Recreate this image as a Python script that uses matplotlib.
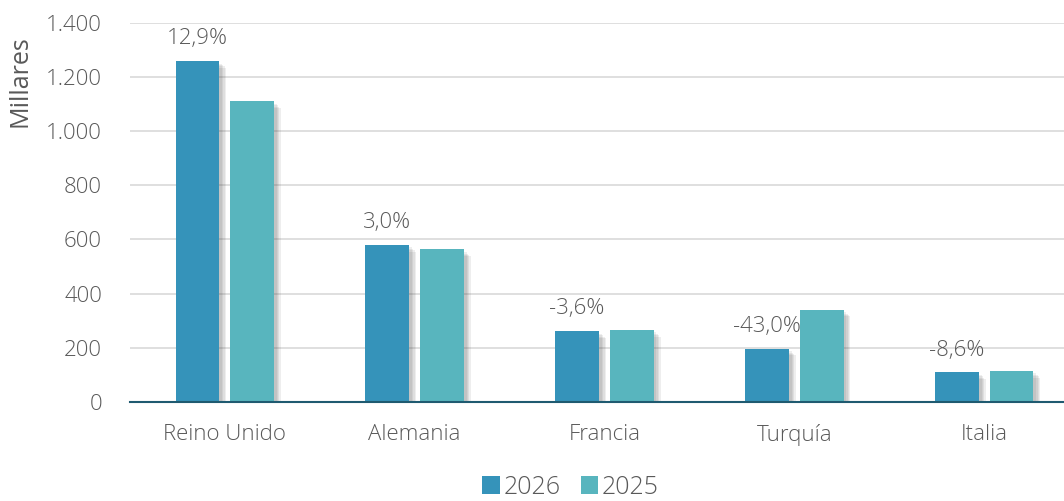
import matplotlib
matplotlib.use("Agg")
import matplotlib.pyplot as plt
import matplotlib.patheffects as pe
import numpy as np

# Data (thousands)
categories = ["Reino Unido", "Alemania", "Francia", "Turquía", "Italia"]
values_2026 = [1260, 581, 261, 197, 109]
values_2025 = [1112, 563, 267, 341, 115]
pct_labels = ["12,9%", "3,0%", "-3,6%", "-43,0%", "-8,6%"]

COLOR_2026 = "#3593BA"
COLOR_2025 = "#58B5BE"
TEXT_COLOR = "#595959"

plt.rcParams["font.family"] = ["Open Sans", "DejaVu Sans"]
plt.rcParams["font.weight"] = "light"

fig = plt.figure(figsize=(10.64, 5.01), dpi=100)
ax = fig.add_axes([0.122, 0.198, 0.878, 0.756])

x = np.arange(len(categories))
width = 0.23
offset = 0.144

# soft drop shadow built from a few faint offset copies
shadow = [pe.SimplePatchShadow(offset=(d, -d), shadow_rgbFace="#444444", alpha=0.09)
          for d in (5, 4, 3, 2)] + [pe.Normal()]

b1 = ax.bar(x - offset, values_2026, width, color=COLOR_2026, label="2026", zorder=3)
b2 = ax.bar(x + offset, values_2025, width, color=COLOR_2025, label="2025", zorder=3)
for bar in list(b1) + list(b2):
    bar.set_path_effects(shadow)

for xi, v, lab in zip(x, values_2026, pct_labels):
    ax.annotate(lab, (xi - offset, v), xytext=(0, 16), textcoords="offset points",
                ha="center", va="center", fontsize=16, color=TEXT_COLOR, zorder=5)

ax.set_xlim(-0.5, 4.42)
ax.set_ylim(0, 1400)
ax.set_yticks(range(0, 1401, 200))
ax.yaxis.set_major_formatter(plt.FuncFormatter(lambda v, p: f"{int(v):,}".replace(",", ".")))
ax.set_xticks(x)
ax.set_xticklabels(categories)
ax.tick_params(axis="both", length=0, labelsize=16, labelcolor=TEXT_COLOR)
ax.tick_params(axis="x", pad=16)
ax.tick_params(axis="y", pad=20)

ax.grid(axis="y", color="#D9D9D9", linewidth=1.2, zorder=0)
for s in ["top", "right", "left"]:
    ax.spines[s].set_visible(False)
ax.spines["bottom"].set_color("#1F5A70")
ax.spines["bottom"].set_linewidth(1.5)
ax.spines["bottom"].set_zorder(4)

ax.set_ylabel("Millares", fontsize=18, color=TEXT_COLOR, loc="top")
ax.yaxis.set_label_coords(-0.104, 0.968)

leg = ax.legend(loc="center", bbox_to_anchor=(0.472, -0.225), ncol=2, frameon=False,
                fontsize=18, labelcolor=TEXT_COLOR, handlelength=0.7, handleheight=0.7,
                handletextpad=0.15, columnspacing=0.8)
for h in leg.legend_handles:
    h.set_path_effects([])

fig.savefig("out.png", dpi=100)
